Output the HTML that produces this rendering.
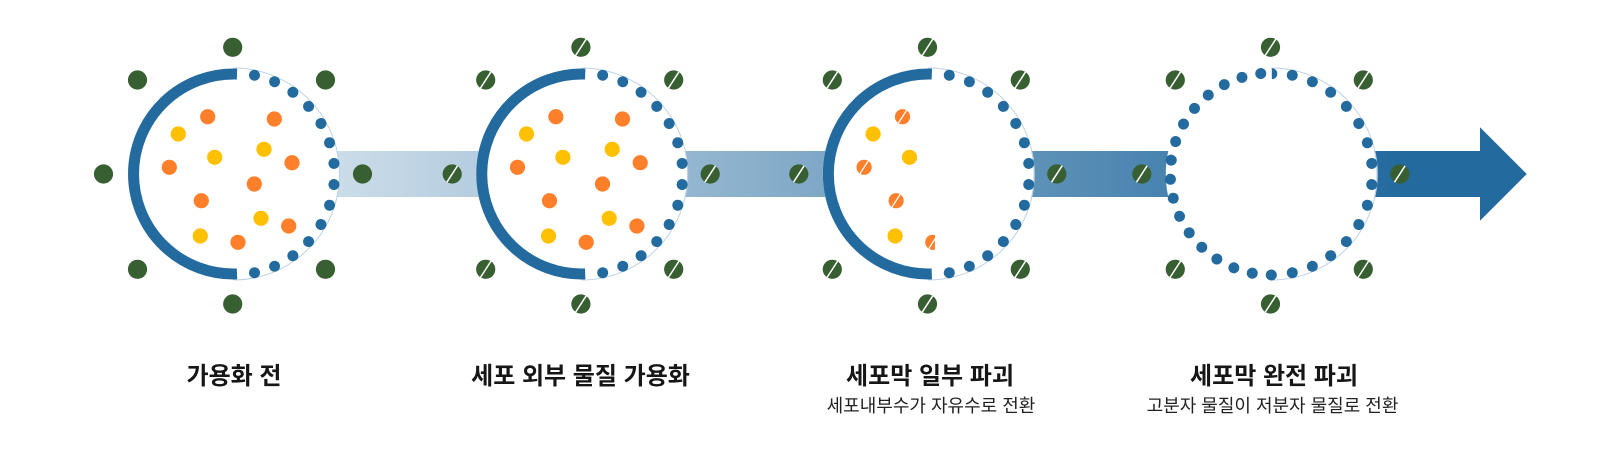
<!DOCTYPE html>
<html>
<head>
<meta charset="utf-8">
<style>
html,body{margin:0;padding:0;background:#fff;}
body{width:1600px;height:454px;overflow:hidden;}
svg{display:block;}
.t{font-family:"Liberation Sans","Noto Sans CJK KR",sans-serif;font-weight:700;font-size:24px;fill:#161616;}
.s{font-family:"Liberation Sans","Noto Sans CJK KR",sans-serif;font-weight:400;font-size:18px;fill:#222;}
</style>
</head>
<body>
<svg width="1600" height="454" viewBox="0 0 1600 454" xmlns="http://www.w3.org/2000/svg">
<defs>
  <linearGradient id="bandg" gradientUnits="userSpaceOnUse" x1="340" y1="0" x2="1400" y2="0">
    <stop offset="0" stop-color="#CBDCE9"/>
    <stop offset="1" stop-color="#236A9E"/>
  </linearGradient>
  <g id="rd" fill="#236A9E">
    <circle cx="101" cy="0" r="5.5" transform="rotate(-78)"/>
    <circle cx="101" cy="0" r="5.5" transform="rotate(-66)"/>
    <circle cx="101" cy="0" r="5.5" transform="rotate(-54)"/>
    <circle cx="101" cy="0" r="5.5" transform="rotate(-42)"/>
    <circle cx="101" cy="0" r="5.5" transform="rotate(-30)"/>
    <circle cx="101" cy="0" r="5.5" transform="rotate(-18)"/>
    <circle cx="101" cy="0" r="5.5" transform="rotate(-6)"/>
    <circle cx="101" cy="0" r="5.5" transform="rotate(6)"/>
    <circle cx="101" cy="0" r="5.5" transform="rotate(18)"/>
    <circle cx="101" cy="0" r="5.5" transform="rotate(30)"/>
    <circle cx="101" cy="0" r="5.5" transform="rotate(42)"/>
    <circle cx="101" cy="0" r="5.5" transform="rotate(54)"/>
    <circle cx="101" cy="0" r="5.5" transform="rotate(66)"/>
    <circle cx="101" cy="0" r="5.5" transform="rotate(78)"/>
  </g>
  <path id="thin" d="M0 -106 A106 106 0 0 1 0 106" fill="none" stroke="#BCD2E5" stroke-width="1"/>
  <path id="arc" d="M3.5 -99.94 A100 100 0 1 0 3.5 99.94" fill="none" stroke="#236A9E" stroke-width="11"/>
  <circle id="gp" cx="0" cy="0" r="9.6" fill="#375F31"/>
  <g id="gs">
    <circle cx="0" cy="0" r="9.6" fill="#375F31"/>
    <line x1="-5.3" y1="8.2" x2="5.3" y2="-8.2" stroke="#fff" stroke-width="1.5"/>
  </g>
  <g id="ring0">
    <use href="#gp" x="-0.3" y="-126.7"/>
    <use href="#gp" x="-95.5" y="-94"/>
    <use href="#gp" x="92.5" y="-94"/>
    <use href="#gp" x="-129.5" y="0"/>
    <use href="#gp" x="129.5" y="0"/>
    <use href="#gp" x="-95.5" y="95.3"/>
    <use href="#gp" x="92.5" y="95.3"/>
    <use href="#gp" x="-0.3" y="130"/>
  </g>
  <g id="ring1">
    <use href="#gs" x="-0.3" y="-126.7"/>
    <use href="#gs" x="-95.5" y="-94"/>
    <use href="#gs" x="92.5" y="-94"/>
    <use href="#gs" x="-129" y="0"/>
    <use href="#gs" x="129" y="0"/>
    <use href="#gs" x="-95.5" y="95.3"/>
    <use href="#gs" x="92.5" y="95.3"/>
    <use href="#gs" x="-0.3" y="130"/>
  </g>
  <circle id="po" cx="0" cy="0" r="7.6" fill="#FF7F2A"/>
  <circle id="py" cx="0" cy="0" r="7.6" fill="#FFC000"/>
  <g id="pos">
    <circle cx="0" cy="0" r="7.6" fill="#FF7F2A"/>
    <line x1="-4.2" y1="6.5" x2="4.2" y2="-6.5" stroke="#fff" stroke-width="1.3"/>
  </g>
  <g id="parts">
    <use href="#po" x="-25.3" y="-57.3"/>
    <use href="#py" x="-54.7" y="-40"/>
    <use href="#po" x="41.3" y="-55"/>
    <use href="#py" x="-18.3" y="-16.7"/>
    <use href="#py" x="31" y="-24.7"/>
    <use href="#po" x="-63.7" y="-6.7"/>
    <use href="#po" x="59" y="-11.3"/>
    <use href="#po" x="21.3" y="10"/>
    <use href="#po" x="-31.7" y="26.7"/>
    <use href="#py" x="28" y="44.3"/>
    <use href="#po" x="55.7" y="52"/>
    <use href="#py" x="-32.7" y="62"/>
    <use href="#po" x="5" y="68.3"/>
  </g>
  <clipPath id="c3clip">
    <rect x="-120" y="-120" width="127.2" height="240"/>
  </clipPath>
</defs>

<rect x="240" y="151" width="1241" height="46" fill="url(#bandg)"/>
<polygon points="1480,127.3 1526.7,174 1480,220.7" fill="#236A9E"/>

<circle cx="233.5" cy="174" r="105.5" fill="#fff"/>
<circle cx="581.7" cy="174" r="105.5" fill="#fff"/>
<circle cx="928.3" cy="174" r="105.5" fill="#fff"/>
<circle cx="1271.3" cy="174" r="105.5" fill="#fff"/>

<g transform="translate(233.5,174)">
  <use href="#thin"/>
  <use href="#arc"/>
  <use href="#rd"/>
</g>
<g transform="translate(233,174)">
  <use href="#parts"/>
  <use href="#ring0"/>
</g>

<g transform="translate(581.7,174)">
  <use href="#thin"/>
  <use href="#arc"/>
  <use href="#rd"/>
</g>
<g transform="translate(581.2,174)">
  <use href="#parts"/>
  <use href="#ring1"/>
</g>

<g transform="translate(928.3,174)">
  <use href="#thin"/>
  <use href="#arc"/>
  <use href="#rd"/>
</g>
<g transform="translate(927.8,174)">
  <g clip-path="url(#c3clip)">
    <use href="#pos" x="-25.3" y="-57.3"/>
    <use href="#py" x="-54.7" y="-40"/>
    <use href="#py" x="-18.3" y="-16.7"/>
    <use href="#pos" x="-63.7" y="-6.7"/>
    <use href="#pos" x="-31.7" y="26.7"/>
    <use href="#py" x="-32.7" y="62"/>
    <use href="#pos" x="5" y="68.3"/>
  </g>
  <use href="#ring1"/>
</g>

<g transform="translate(1271.3,174)">
  <use href="#thin"/>
  <use href="#rd"/>
  <g fill="#236A9E">
    <circle cx="101" cy="0" r="5.5" transform="rotate(90)"/>
    <circle cx="101" cy="0" r="5.5" transform="rotate(100.875)"/>
    <circle cx="101" cy="0" r="5.5" transform="rotate(111.75)"/>
    <circle cx="101" cy="0" r="5.5" transform="rotate(122.625)"/>
    <circle cx="101" cy="0" r="5.5" transform="rotate(133.5)"/>
    <circle cx="101" cy="0" r="5.5" transform="rotate(144.375)"/>
    <circle cx="101" cy="0" r="5.5" transform="rotate(155.25)"/>
    <circle cx="101" cy="0" r="5.5" transform="rotate(166.125)"/>
    <circle cx="101" cy="0" r="5.5" transform="rotate(177)"/>
    <circle cx="101" cy="0" r="5.5" transform="rotate(187.875)"/>
    <circle cx="101" cy="0" r="5.5" transform="rotate(198.75)"/>
    <circle cx="101" cy="0" r="5.5" transform="rotate(209.625)"/>
    <circle cx="101" cy="0" r="5.5" transform="rotate(220.5)"/>
    <circle cx="101" cy="0" r="5.5" transform="rotate(231.375)"/>
    <circle cx="101" cy="0" r="5.5" transform="rotate(242.25)"/>
    <circle cx="101" cy="0" r="5.5" transform="rotate(253.125)"/>
    <circle cx="101" cy="0" r="5.5" transform="rotate(264)"/>
    <path d="M0.5 -105.8 A5.5 5.5 0 0 1 0.5 -94.8 Z"/>
  </g>
</g>
<g transform="translate(1270.8,174)">
  <use href="#ring1"/>
</g>

<text class="t" x="234" y="384" text-anchor="middle">가용화 전</text>
<text class="t" x="580.5" y="384" text-anchor="middle">세포 외부 물질 가용화</text>
<text class="t" x="930" y="384" text-anchor="middle">세포막 일부 파괴</text>
<text class="s" x="931" y="412" text-anchor="middle">세포내부수가 자유수로 전환</text>
<text class="t" x="1274" y="384" text-anchor="middle">세포막 완전 파괴</text>
<text class="s" x="1272.5" y="412" text-anchor="middle">고분자 물질이 저분자 물질로 전환</text>
</svg>
</body>
</html>
